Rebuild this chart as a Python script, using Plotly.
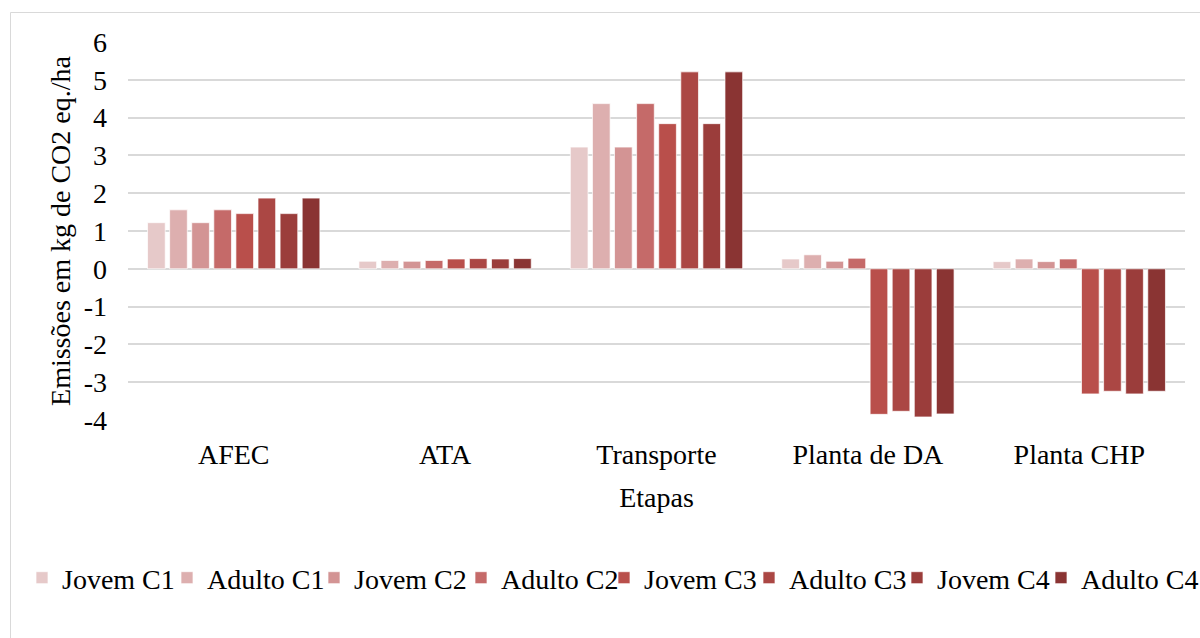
import plotly.graph_objects as go

# Stages of the process (x categories)
etapas = ["AFEC", "ATA", "Transporte", "Planta de DA", "Planta CHP"]

# Scenario series
series_names = ["Jovem C1", "Adulto C1", "Jovem C2", "Adulto C2",
                "Jovem C3", "Adulto C3", "Jovem C4", "Adulto C4"]

# Emissions (kg CO2 eq./ha) per stage for each series
jovem_c1 = [1.22, 0.20, 3.22, 0.26, 0.19]
adulto_c1 = [1.56, 0.22, 4.37, 0.37, 0.26]
jovem_c2 = [1.22, 0.20, 3.22, 0.20, 0.19]
adulto_c2 = [1.56, 0.22, 4.37, 0.28, 0.26]
jovem_c3 = [1.46, 0.26, 3.84, -3.85, -3.31]
adulto_c3 = [1.87, 0.27, 5.21, -3.77, -3.24]
jovem_c4 = [1.46, 0.26, 3.84, -3.92, -3.31]
adulto_c4 = [1.87, 0.27, 5.21, -3.84, -3.24]

series_values = [jovem_c1, adulto_c1, jovem_c2, adulto_c2,
                 jovem_c3, adulto_c3, jovem_c4, adulto_c4]

colors = ["#E6C9C9", "#DDAFAF", "#D39494", "#C56A69",
          "#B94F4B", "#AB4744", "#9B3D3B", "#8A3433"]

y_ticks = [6, 5, 4, 3, 2, 1, 0, -1, -2, -3, -4]

FONT = "Liberation Serif, Times New Roman, serif"
FS = 28

# plot-area geometry in pixels
W, H = 1200, 638
L, R, T, B = 128, 15, 42, 218
pw, ph = W - L - R, H - T - B


def px_x(p):
    return (p - L) / pw


def px_y(p):
    return (H - B - p) / ph


# left pixel of each legend entry's label, one legend box per series
legend_text_px = [58, 203, 350, 497, 640, 785, 933, 1077]
legend_ids = ["legend"] + [f"legend{i}" for i in range(2, len(series_names) + 1)]

fig = go.Figure()
for name, vals, col, lid in zip(series_names, series_values, colors, legend_ids):
    fig.add_trace(go.Bar(
        x=etapas, y=vals, name=name, legend=lid,
        marker=dict(color=col, line=dict(color="rgba(255,255,255,0.7)", width=1)),
    ))

legend_layouts = {}
for lid, tx in zip(legend_ids, legend_text_px):
    legend_layouts[lid] = dict(
        orientation="h", xref="paper", yref="paper",
        x=px_x(tx - 36), xanchor="left", y=px_y(578), yanchor="middle",
        font=dict(family=FONT, size=FS, color="#000000"),
        itemwidth=30, bgcolor="rgba(0,0,0,0)", borderwidth=0,
    )

fig.update_layout(
    width=W, height=H,
    margin=dict(l=L, r=R, t=T, b=B, autoexpand=False),
    paper_bgcolor="white", plot_bgcolor="white",
    font=dict(family=FONT, size=FS, color="#000000"),
    barmode="group", bargap=0.164, bargroupgap=0.2,
    showlegend=True,
    xaxis=dict(
        showgrid=False, showline=False, ticks="",
        tickfont=dict(family=FONT, size=FS),
        ticklabelstandoff=15,
        title=dict(text="Etapas", font=dict(family=FONT, size=FS), standoff=18),
    ),
    yaxis=dict(
        range=[-4, 6], tickvals=y_ticks, ticktext=[str(v) for v in y_ticks],
        showgrid=True, gridcolor="#D9D9D9", gridwidth=1.5,
        zeroline=False, showline=False, ticks="",
        tickfont=dict(family=FONT, size=FS),
        ticklabelstandoff=20,
        title=dict(text="Emissões em kg de CO2 eq./ha", font=dict(family=FONT, size=FS), standoff=4),
    ),
    shapes=[dict(
        type="rect", xref="paper", yref="paper",
        x0=px_x(10.5), x1=px_x(1215), y0=px_y(650), y1=px_y(12.5),
        line=dict(color="#D9D9D9", width=1), fillcolor="rgba(0,0,0,0)", layer="below",
    )],
    **legend_layouts,
)

fig.write_html("out.html")
